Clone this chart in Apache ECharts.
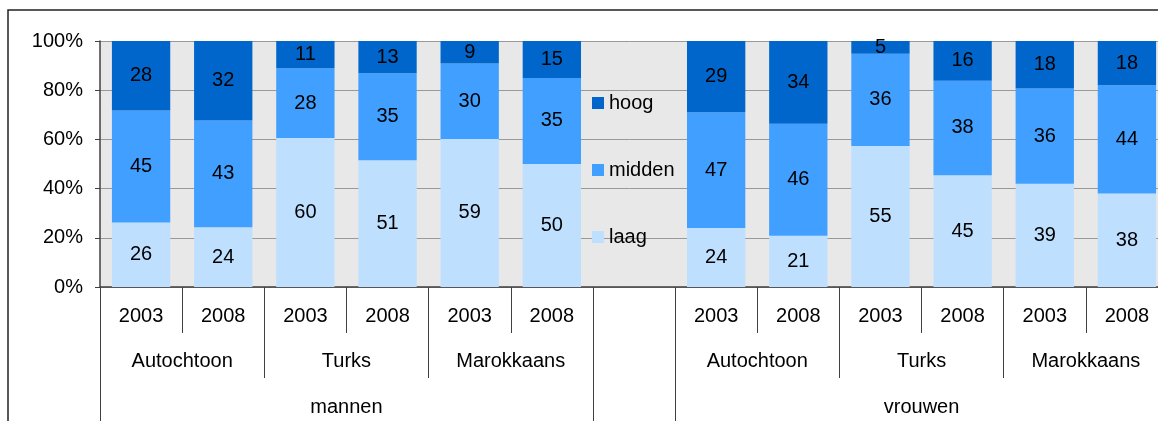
<!DOCTYPE html>
<html>
<head>
<meta charset="utf-8">
<script src="https://cdn.jsdelivr.net/npm/echarts@6/dist/echarts.min.js"></script>
<style>
html, body { margin: 0; padding: 0; background: #fff; }
#main { width: 1158px; height: 421px; }
</style>
</head>
<body>
<div id="main"></div>
<script>
// labels
var years = ['2003', '2008'];
var groups = ['Autochtoon', 'Turks', 'Marokkaans'];
var sexes = ['mannen', 'vrouwen'];
var seriesNames = ['laag', 'midden', 'hoog'];

// values as printed in the bars (index 6 = empty column with the legend)
var laag   = [26, 24, 60, 51, 59, 50, null, 24, 21, 55, 45, 39, 38];
var midden = [45, 43, 28, 35, 30, 35, null, 47, 46, 36, 38, 36, 44];
var hoog   = [28, 32, 11, 13,  9, 15, null, 29, 34,  5, 16, 18, 18];

var colors = { laag: '#bfdfff', midden: '#409fff', hoog: '#0066cc' };

// categorie-as: jaren per groep, met lege kolom tussen mannen en vrouwen
var cats = [];
sexes.forEach(function (s, si) {
    if (si > 0) cats.push('');
    groups.forEach(function () {
        years.forEach(function (y) { cats.push(y); });
    });
});

// grenzen en midden van de groepen (in kolommen)
var groupTicks = [], groupCenters = {}, sexTicks = [], sexCenters = {};
var pos = 0;
sexes.forEach(function (s, si) {
    if (si > 0) pos += 1;
    var start = pos;
    sexTicks.push(pos);
    groups.forEach(function (g) {
        groupTicks.push(pos);
        groupCenters[pos + years.length / 2] = g;
        pos += years.length;
    });
    groupTicks.push(pos);
    sexTicks.push(pos);
    sexCenters[(start + pos) / 2] = s;
});

// 100% gestapeld: elke kolom normaliseren
var raw = { laag: laag, midden: midden, hoog: hoog };
function pct(name) {
    return raw[name].map(function (v, i) {
        if (v == null) return '-';
        var sum = laag[i] + midden[i] + hoog[i];
        return v / sum * 100;
    });
}

var fs = 20;
var series = seriesNames.map(function (name) {
    return {
        name: name,
        type: 'bar',
        stack: 'total',
        barCategoryGap: '29%',
        itemStyle: { color: colors[name] },
        label: {
            show: true,
            position: 'inside',
            color: '#000',
            fontSize: fs,
            fontFamily: 'Liberation Sans',
            formatter: function (p) { return raw[name][p.dataIndex]; }
        },
        data: pct(name)
    };
});

var axisColor = '#404040';
var chart = echarts.init(document.getElementById('main'));
var option = {
    backgroundColor: '#fff',
    animation: false,
    textStyle: { fontFamily: 'Liberation Sans' },
    graphic: [{
        type: 'rect',
        shape: { x: 8, y: 10, width: 1300, height: 600 },
        style: { fill: 'none', stroke: '#222', lineWidth: 1.5 }
    }],
    grid: {
        left: 100, top: 41, width: 1068, height: 246,
        outerBoundsMode: 'none',
        show: true, backgroundColor: '#e8e8e8', borderWidth: 0
    },
    legend: {
        orient: 'vertical',
        left: 587, top: 88,
        icon: 'rect',
        itemWidth: 12, itemHeight: 12,
        itemGap: 47,
        data: ['hoog', 'midden', 'laag'],
        textStyle: { fontSize: fs, color: '#000', fontFamily: 'Liberation Sans' }
    },
    xAxis: [{
        type: 'category',
        data: cats,
        position: 'bottom',
        axisLine: { lineStyle: { color: axisColor, width: 1.5 } },
        axisTick: { show: true, interval: 0, length: 46, lineStyle: { color: axisColor } },
        axisLabel: { interval: 0, fontSize: fs, color: '#000', margin: 19 }
    }, {
        type: 'value',
        min: 0, max: cats.length,
        position: 'bottom',
        offset: 46,
        splitLine: { show: false },
        axisLine: { show: false },
        axisTick: { show: true, customValues: groupTicks, length: 45, lineStyle: { color: axisColor } },
        axisLabel: {
            customValues: Object.keys(groupCenters).map(Number),
            fontSize: fs, color: '#000', margin: 18,
            formatter: function (v) { return groupCenters[v] || ''; }
        }
    }, {
        type: 'value',
        min: 0, max: cats.length,
        position: 'bottom',
        offset: 91,
        splitLine: { show: false },
        axisLine: { show: false },
        axisTick: { show: true, customValues: sexTicks, length: 80, lineStyle: { color: axisColor } },
        axisLabel: {
            customValues: Object.keys(sexCenters).map(Number),
            fontSize: fs, color: '#000', margin: 19,
            formatter: function (v) { return sexCenters[v] || ''; }
        }
    }],
    yAxis: {
        type: 'value',
        min: 0, max: 100, interval: 20,
        axisLine: { show: true, lineStyle: { color: axisColor, width: 1.5 } },
        axisTick: { show: true, length: 5, lineStyle: { color: axisColor } },
        axisLabel: { formatter: '{value}%', fontSize: fs, color: '#000', margin: 17 },
        splitLine: { lineStyle: { color: '#999', width: 1 } }
    },
    series: series
};
chart.setOption(option);
window.onresize = chart.resize;
</script>
</body>
</html>
